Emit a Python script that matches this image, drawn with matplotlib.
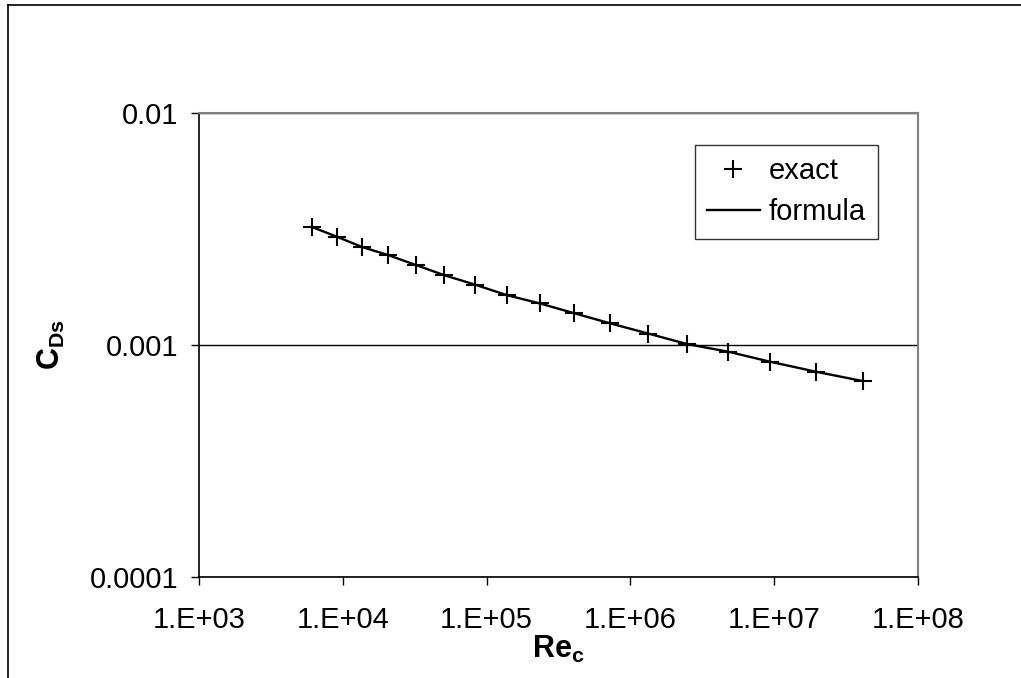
import numpy as np
import matplotlib.pyplot as plt
from matplotlib.lines import Line2D
from matplotlib.ticker import FixedLocator, FixedFormatter, NullLocator

plt.rcParams['font.family'] = ['Liberation Sans', 'DejaVu Sans']
plt.rcParams['mathtext.fontset'] = 'custom'
plt.rcParams['mathtext.rm'] = 'Liberation Sans'
plt.rcParams['mathtext.bf'] = 'Liberation Sans:bold'

# Re_c values
re_c = [6.14e3, 9.07e3, 1.37e4, 2.07e4, 3.23e4, 5.06e4, 8.30e4, 1.38e5, 2.35e5,
        4.07e5, 7.21e5, 1.33e6, 2.46e6, 4.80e6, 9.35e6, 1.95e7, 4.12e7]
# C_Ds exact
cds_exact = [3.22e-3, 2.93e-3, 2.64e-3, 2.44e-3, 2.21e-3, 2.00e-3, 1.82e-3, 1.64e-3,
             1.51e-3, 1.37e-3, 1.24e-3, 1.12e-3, 1.01e-3, 9.35e-4, 8.47e-4, 7.67e-4, 6.99e-4]
# C_Ds formula
cds_formula = [3.22e-3, 2.93e-3, 2.64e-3, 2.44e-3, 2.21e-3, 2.00e-3, 1.82e-3, 1.64e-3,
               1.51e-3, 1.37e-3, 1.24e-3, 1.12e-3, 1.01e-3, 9.35e-4, 8.47e-4, 7.67e-4, 6.99e-4]

xticks = [1e3, 1e4, 1e5, 1e6, 1e7, 1e8]
xticklabels = ['1.E+03', '1.E+04', '1.E+05', '1.E+06', '1.E+07', '1.E+08']
yticks = [1e-4, 1e-3, 1e-2]
yticklabels = ['0.0001', '0.001', '0.01']

fig = plt.figure(figsize=(10.21, 6.78), dpi=100)
ax = fig.add_axes([0.1949, 0.1490, 0.7042, 0.6844])

ax.plot(re_c, cds_exact, '+', color='black', markersize=13, markeredgewidth=1.5,
        label='exact', zorder=3)
ax.plot(re_c, cds_formula, '-', color='black', linewidth=1.7, label='formula', zorder=2)

ax.set_xscale('log')
ax.set_yscale('log')
ax.set_xlim(1e3, 1e8)
ax.set_ylim(1e-4, 1e-2)

ax.xaxis.set_major_locator(FixedLocator(xticks))
ax.xaxis.set_major_formatter(FixedFormatter(xticklabels))
ax.xaxis.set_minor_locator(NullLocator())
ax.yaxis.set_major_locator(FixedLocator(yticks))
ax.yaxis.set_major_formatter(FixedFormatter(yticklabels))
ax.yaxis.set_minor_locator(NullLocator())

ax.tick_params(axis='both', direction='out', length=6, width=1, colors='black',
               labelsize=21)
ax.tick_params(axis='y', pad=9)
ax.tick_params(axis='x', pad=15)
ax.grid(axis='y', which='major', color='black', linewidth=1)
ax.set_axisbelow(True)

for side in ['top', 'right']:
    ax.spines[side].set_color('#808080')
    ax.spines[side].set_linewidth(1.5)
for side in ['left', 'bottom']:
    ax.spines[side].set_color('black')
    ax.spines[side].set_linewidth(1.2)

ax.set_xlabel(r'$\mathbf{Re_c}$', fontsize=22, labelpad=0)
ax.set_ylabel(r'$\mathbf{C_{Ds}}$', fontsize=22, labelpad=16)

leg = ax.legend(loc='upper right', bbox_to_anchor=(0.944, 0.931), fontsize=21,
                frameon=True, fancybox=False, shadow=False, handlelength=1.8,
                handletextpad=0.3, labelspacing=0.45, borderpad=0.42,
                borderaxespad=0)
leg.get_frame().set_edgecolor('black')
leg.get_frame().set_linewidth(1)

# outer chart border (left and top only visible)
fig.add_artist(Line2D([8 / 1021, 8 / 1021], [0, 1 - 5 / 678], color='black',
                      linewidth=1.2, transform=fig.transFigure))
fig.add_artist(Line2D([8 / 1021, 1], [1 - 5 / 678, 1 - 5 / 678], color='black',
                      linewidth=1.2, transform=fig.transFigure))

fig.savefig('out.png', dpi=100)
